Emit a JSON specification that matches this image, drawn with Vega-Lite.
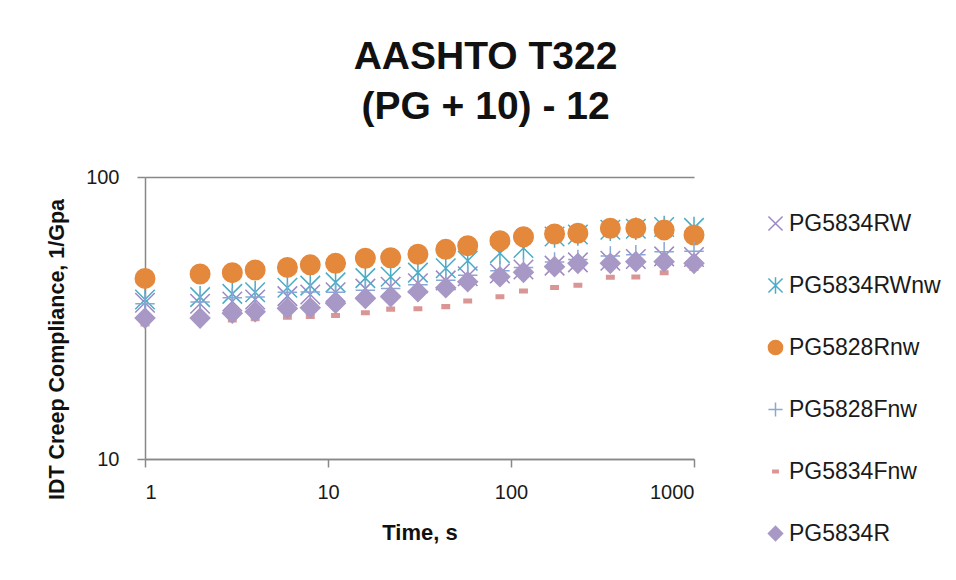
{
  "$schema": "https://vega.github.io/schema/vega-lite/v6.json",
  "width": 549,
  "height": 282,
  "autosize": "none",
  "padding": {"left": 145, "top": 177, "right": 262, "bottom": 121},
  "background": "white",
  "title": {
    "text": ["AASHTO T322", "(PG + 10) - 12"],
    "font": "Liberation Sans",
    "fontSize": 39,
    "fontWeight": "bold",
    "lineHeight": 50,
    "color": "#111111",
    "anchor": "middle",
    "frame": "group",
    "dx": 66,
    "offset": 40
  },
  "data": {
    "values": [
      {"s":"PG5834RW","t":1,"v":35.8},{"s":"PG5834RW","t":2,"v":35.5},{"s":"PG5834RW","t":3,"v":36.2},{"s":"PG5834RW","t":4,"v":36.8},{"s":"PG5834RW","t":6,"v":37.8},{"s":"PG5834RW","t":8,"v":38.3},{"s":"PG5834RW","t":11,"v":39.0},{"s":"PG5834RW","t":16,"v":40.2},{"s":"PG5834RW","t":22,"v":40.8},{"s":"PG5834RW","t":31,"v":42.0},{"s":"PG5834RW","t":44,"v":43.0},{"s":"PG5834RW","t":58,"v":44.5},{"s":"PG5834RW","t":87,"v":45.5},{"s":"PG5834RW","t":117,"v":47.0},{"s":"PG5834RW","t":173,"v":48.5},{"s":"PG5834RW","t":232,"v":49.8},{"s":"PG5834RW","t":349,"v":50.5},{"s":"PG5834RW","t":481,"v":51.2},{"s":"PG5834RW","t":687,"v":52.3},{"s":"PG5834RW","t":1000,"v":52.0},
      {"s":"PG5834RWnw","t":1,"v":36.8},{"s":"PG5834RWnw","t":2,"v":37.5},{"s":"PG5834RWnw","t":3,"v":38.5},{"s":"PG5834RWnw","t":4,"v":39.0},{"s":"PG5834RWnw","t":6,"v":40.5},{"s":"PG5834RWnw","t":8,"v":41.2},{"s":"PG5834RWnw","t":11,"v":42.3},{"s":"PG5834RWnw","t":16,"v":43.8},{"s":"PG5834RWnw","t":22,"v":44.3},{"s":"PG5834RWnw","t":31,"v":45.8},{"s":"PG5834RWnw","t":44,"v":47.5},{"s":"PG5834RWnw","t":58,"v":50.5},{"s":"PG5834RWnw","t":87,"v":53.7},{"s":"PG5834RWnw","t":117,"v":56.0},{"s":"PG5834RWnw","t":173,"v":61.5},{"s":"PG5834RWnw","t":232,"v":62.5},{"s":"PG5834RWnw","t":349,"v":65.0},{"s":"PG5834RWnw","t":481,"v":65.5},{"s":"PG5834RWnw","t":687,"v":66.5},{"s":"PG5834RWnw","t":1000,"v":66.0},
      {"s":"PG5828Rnw","t":1,"v":43.7},{"s":"PG5828Rnw","t":2,"v":45.3},{"s":"PG5828Rnw","t":3,"v":45.8},{"s":"PG5828Rnw","t":4,"v":46.8},{"s":"PG5828Rnw","t":6,"v":47.8},{"s":"PG5828Rnw","t":8,"v":48.8},{"s":"PG5828Rnw","t":11,"v":49.4},{"s":"PG5828Rnw","t":16,"v":51.5},{"s":"PG5828Rnw","t":22,"v":51.7},{"s":"PG5828Rnw","t":31,"v":53.2},{"s":"PG5828Rnw","t":44,"v":55.4},{"s":"PG5828Rnw","t":58,"v":57.1},{"s":"PG5828Rnw","t":87,"v":59.4},{"s":"PG5828Rnw","t":117,"v":61.4},{"s":"PG5828Rnw","t":173,"v":62.8},{"s":"PG5828Rnw","t":232,"v":63.2},{"s":"PG5828Rnw","t":349,"v":65.8},{"s":"PG5828Rnw","t":481,"v":65.8},{"s":"PG5828Rnw","t":687,"v":64.9},{"s":"PG5828Rnw","t":1000,"v":62.3},
      {"s":"PG5828Fnw","t":1,"v":35.5},{"s":"PG5828Fnw","t":2,"v":36.0},{"s":"PG5828Fnw","t":3,"v":37.3},{"s":"PG5828Fnw","t":4,"v":37.5},{"s":"PG5828Fnw","t":6,"v":39.0},{"s":"PG5828Fnw","t":8,"v":39.1},{"s":"PG5828Fnw","t":11,"v":39.0},{"s":"PG5828Fnw","t":16,"v":39.7},{"s":"PG5828Fnw","t":22,"v":40.2},{"s":"PG5828Fnw","t":31,"v":41.5},{"s":"PG5828Fnw","t":44,"v":43.0},{"s":"PG5828Fnw","t":58,"v":44.8},{"s":"PG5828Fnw","t":87,"v":46.5},{"s":"PG5828Fnw","t":117,"v":47.8},{"s":"PG5828Fnw","t":173,"v":50.0},{"s":"PG5828Fnw","t":232,"v":51.0},{"s":"PG5828Fnw","t":349,"v":52.5},{"s":"PG5828Fnw","t":481,"v":53.0},{"s":"PG5828Fnw","t":687,"v":54.3},{"s":"PG5828Fnw","t":1000,"v":54.5},
      {"s":"PG5834Fnw","t":1,"v":30.1},{"s":"PG5834Fnw","t":2,"v":30.9},{"s":"PG5834Fnw","t":3,"v":31.1},{"s":"PG5834Fnw","t":4,"v":31.4},{"s":"PG5834Fnw","t":6,"v":31.8},{"s":"PG5834Fnw","t":8,"v":32.0},{"s":"PG5834Fnw","t":11,"v":32.3},{"s":"PG5834Fnw","t":16,"v":33.0},{"s":"PG5834Fnw","t":22,"v":34.0},{"s":"PG5834Fnw","t":31,"v":34.1},{"s":"PG5834Fnw","t":44,"v":34.7},{"s":"PG5834Fnw","t":58,"v":36.3},{"s":"PG5834Fnw","t":87,"v":37.6},{"s":"PG5834Fnw","t":117,"v":39.4},{"s":"PG5834Fnw","t":173,"v":40.6},{"s":"PG5834Fnw","t":232,"v":41.3},{"s":"PG5834Fnw","t":349,"v":44.1},{"s":"PG5834Fnw","t":481,"v":44.2},{"s":"PG5834Fnw","t":687,"v":45.8},{"s":"PG5834Fnw","t":1000,"v":47.4},
      {"s":"PG5834R","t":1,"v":31.6},{"s":"PG5834R","t":2,"v":31.6},{"s":"PG5834R","t":3,"v":32.9},{"s":"PG5834R","t":4,"v":33.3},{"s":"PG5834R","t":6,"v":34.2},{"s":"PG5834R","t":8,"v":34.4},{"s":"PG5834R","t":11,"v":35.7},{"s":"PG5834R","t":16,"v":37.1},{"s":"PG5834R","t":22,"v":37.6},{"s":"PG5834R","t":31,"v":39.2},{"s":"PG5834R","t":44,"v":40.5},{"s":"PG5834R","t":58,"v":42.5},{"s":"PG5834R","t":87,"v":44.3},{"s":"PG5834R","t":117,"v":45.9},{"s":"PG5834R","t":173,"v":48.1},{"s":"PG5834R","t":232,"v":49.4},{"s":"PG5834R","t":349,"v":49.4},{"s":"PG5834R","t":481,"v":50.1},{"s":"PG5834R","t":687,"v":50.1},{"s":"PG5834R","t":1000,"v":49.4}
    ]
  },
  "mark": {"type": "point", "size": 380, "strokeWidth": 1.5, "opacity": 1},
  "encoding": {
    "x": {
      "field": "t", "type": "quantitative",
      "scale": {"type": "log", "domain": [1, 1000], "nice": false},
      "axis": {
        "title": "Time, s",
        "values": [1, 10, 100, 1000],
        "format": "d",
        "grid": false,
        "domainColor": "#888888", "domainWidth": 1.5,
        "tickColor": "#888888", "tickWidth": 1.5, "tickSize": 8,
        "labelFont": "Liberation Sans", "labelFontSize": 20, "labelColor": "#1a1a1a",
        "labelPadding": 15,
        "titleFont": "Liberation Sans", "titleFontSize": 22, "titleFontWeight": "bold", "titleColor": "#111111",
        "titlePadding": 20
      }
    },
    "y": {
      "field": "v", "type": "quantitative",
      "scale": {"type": "log", "domain": [10, 100], "nice": false},
      "axis": {
        "title": "IDT Creep Compliance,  1/Gpa",
        "values": [10, 100],
        "format": "d",
        "grid": true, "gridColor": "#888888", "gridWidth": 1.5,
        "domainColor": "#888888", "domainWidth": 1.5,
        "tickColor": "#888888", "tickWidth": 1.5, "tickSize": 8,
        "labelFont": "Liberation Sans", "labelFontSize": 20, "labelColor": "#1a1a1a",
        "labelPadding": 18,
        "titleFont": "Liberation Sans", "titleFontSize": 21.5, "titleFontWeight": "bold", "titleColor": "#111111",
        "titleAngle": -90, "titleX": -88, "titleY": 172, "titleAlign": "center", "titleBaseline": "middle"
      }
    },
    "shape": {
      "field": "s", "type": "nominal",
      "scale": {
        "domain": ["PG5834RW", "PG5834RWnw", "PG5828Rnw", "PG5828Fnw", "PG5834Fnw", "PG5834R"],
        "range": [
          "M-1,-1L1,1M-1,1L1,-1",
          "M-1,-1L1,1M-1,1L1,-1M0,-1.15L0,1.15",
          "circle",
          "M-1,0L1,0M0,-1L0,1",
          "M-0.38,-0.18L0.38,-0.18L0.38,0.18L-0.38,0.18Z",
          "diamond"
        ]
      },
      "legend": {
        "title": null,
        "orient": "none", "legendX": 619, "legendY": 35,
        "padding": 0,
        "symbolSize": 200, "symbolStrokeWidth": 1.5,
        "labelFont": "Liberation Sans", "labelFontSize": 23, "labelColor": "#1a1a1a",
        "labelOffset": 2, "rowPadding": 38
      }
    },
    "stroke": {
      "field": "s", "type": "nominal",
      "scale": {
        "domain": ["PG5834RW", "PG5834RWnw", "PG5828Rnw", "PG5828Fnw", "PG5834Fnw", "PG5834R"],
        "range": ["#9d88c4", "#4bacc6", "#e4883c", "#8aa6d6", "#d99694", "#a898c6"]
      },
      "legend": null
    },
    "fill": {
      "field": "s", "type": "nominal",
      "scale": {
        "domain": ["PG5834RW", "PG5834RWnw", "PG5828Rnw", "PG5828Fnw", "PG5834Fnw", "PG5834R"],
        "range": ["transparent", "transparent", "#e4883c", "transparent", "#d99694", "#a898c6"]
      },
      "legend": null
    }
  },
  "config": {"view": {"stroke": null}}
}
